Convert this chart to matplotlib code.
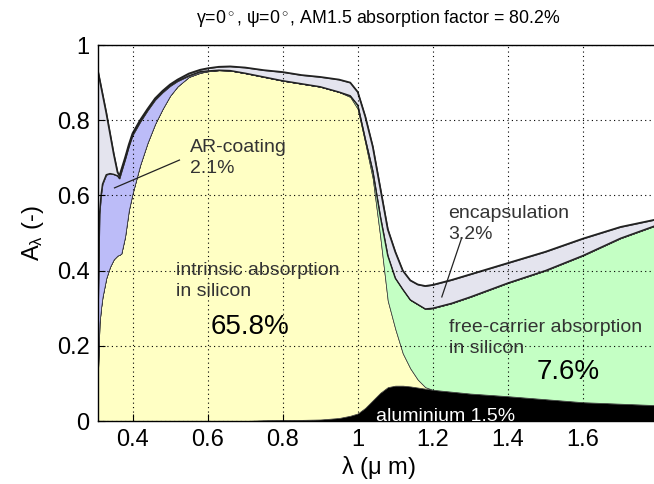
import numpy as np
import matplotlib.pyplot as plt

plt.rcParams['font.family'] = ['Liberation Sans', 'DejaVu Sans']
plt.rcParams['mathtext.fontset'] = 'custom'
plt.rcParams['mathtext.rm'] = 'Liberation Sans'
plt.rcParams['mathtext.it'] = 'Liberation Sans'

# wavelength grid (um)
wl = [0.308, 0.312, 0.316, 0.32, 0.33, 0.34, 0.35, 0.36, 0.365, 0.37, 0.38, 0.39, 0.40,
      0.42, 0.44, 0.46, 0.48, 0.50, 0.52, 0.55, 0.58, 0.60, 0.63, 0.66, 0.70,
      0.75, 0.80, 0.85, 0.90, 0.95, 0.98,
      1.00, 1.02, 1.04, 1.06, 1.08, 1.10, 1.12, 1.14, 1.16, 1.18, 1.20,
      1.25, 1.30, 1.40, 1.50, 1.60, 1.70, 1.80]

# absorbed fraction per mechanism (stacked from bottom)
aluminium = [0, 0, 0, 0, 0, 0, 0, 0, 0, 0, 0, 0, 0,
             0, 0, 0, 0, 0, 0, 0, 0, 0, 0, 0, 0,
             0.002, 0.003, 0.003, 0.004, 0.008, 0.014,
             0.020, 0.035, 0.055, 0.075, 0.090, 0.094, 0.094, 0.092, 0.089, 0.086, 0.083,
             0.078, 0.073, 0.066, 0.058, 0.050, 0.046, 0.042]
intrinsic = [0.13, 0.26, 0.30, 0.33, 0.38, 0.41, 0.43, 0.44, 0.442, 0.445, 0.49, 0.56, 0.605,
             0.68, 0.74, 0.79, 0.83, 0.865, 0.89, 0.915, 0.926, 0.930, 0.933, 0.932, 0.925,
             0.913, 0.902, 0.894, 0.885, 0.867, 0.848,
             0.81, 0.705, 0.59, 0.415, 0.23, 0.151, 0.086, 0.048, 0.021, 0.004, 0,
             0, 0, 0, 0, 0, 0, 0]
free_carrier = [0, 0, 0, 0, 0, 0, 0, 0, 0, 0, 0, 0, 0,
                0, 0, 0, 0, 0, 0, 0, 0, 0, 0, 0, 0,
                0, 0, 0, 0, 0, 0.003,
                0.01, 0.01, 0.02, 0.055, 0.12, 0.135, 0.17, 0.182, 0.20, 0.208, 0.217,
                0.235, 0.257, 0.301, 0.342, 0.39, 0.44, 0.48]
ar_coating = [0.17, 0.29, 0.30, 0.30, 0.275, 0.248, 0.226, 0.212, 0.203, 0.217, 0.205, 0.17, 0.155,
              0.115, 0.086, 0.064, 0.044, 0.026, 0.014, 0.003, 0.003, 0.001, 0, 0, 0,
              0, 0, 0, 0, 0, 0,
              0, 0, 0, 0, 0, 0, 0, 0, 0, 0, 0,
              0, 0, 0, 0, 0, 0, 0]
encapsulation = [0.63, 0.36, 0.29, 0.24, 0.165, 0.107, 0.054, 0.01, 0.007, 0.006, 0.005, 0.005, 0.005,
                 0.005, 0.004, 0.004, 0.004, 0.004, 0.004, 0.006, 0.005, 0.007, 0.009, 0.011, 0.015,
                 0.018, 0.023, 0.023, 0.026, 0.033, 0.035,
                 0.035, 0.06, 0.065, 0.075, 0.07, 0.07, 0.05, 0.052, 0.053, 0.061, 0.062,
                 0.062, 0.06, 0.053, 0.05, 0.045, 0.03, 0.015]

colors = ['#000000', '#FFFFC4', '#C4FFC4', '#BCBCF8', '#E4E4EE']

fig = plt.figure(figsize=(6.54, 4.84), dpi=100)
ax = fig.add_axes([98 / 654, 63 / 484, 560 / 654, 376 / 484])

ax.stackplot(wl, aluminium, intrinsic, free_carrier, ar_coating, encapsulation,
             colors=colors, edgecolor='#333333', linewidth=0.5)

total = np.sum([aluminium, intrinsic, free_carrier, ar_coating, encapsulation], axis=0)
inner = total - np.array(encapsulation)
ax.plot(wl, total, color='#222222', lw=1.3)
ax.plot(wl, inner, color='#222222', lw=1.0)

ax.set_xlim(0.308, 1.8)
ax.set_ylim(0, 1)
ax.set_xticks([0.4, 0.6, 0.8, 1.0, 1.2, 1.4, 1.6])
ax.set_xticklabels(['0.4', '0.6', '0.8', '1', '1.2', '1.4', '1.6'])
ax.set_yticks([0, 0.2, 0.4, 0.6, 0.8, 1])
ax.set_yticklabels(['0', '0.2', '0.4', '0.6', '0.8', '1'])
ax.tick_params(direction='in', length=5, labelsize=17, pad=6)
ax.grid(True, color='k', linestyle=(0, (1, 3)), linewidth=0.8)
ax.set_axisbelow(False)
for s in ax.spines.values():
    s.set_linewidth(1.0)

ax.set_xlabel(r'$\lambda$ ($\mu$ m)', fontsize=17, labelpad=2)
ax.set_ylabel(r'A$_\lambda$ (-)', fontsize=17, labelpad=8)
ax.set_title(r'$\gamma$=0$^\circ$, $\psi$=0$^\circ$, AM1.5 absorption factor = 80.2%',
             fontsize=12.8, pad=16)

fs = 14
ls = 1.3
ax.text(0.552, 0.70, 'AR-coating\n2.1%', fontsize=fs, color='#333333', va='center',
        linespacing=ls)
ax.plot([0.352, 0.525], [0.62, 0.694], color='#222222', lw=0.9)
ax.text(1.24, 0.525, 'encapsulation\n3.2%', fontsize=fs, color='#333333', va='center',
        linespacing=ls, ha='left')
ax.plot([1.277, 1.224], [0.487, 0.33], color='#222222', lw=0.9)
ax.text(0.515, 0.373, 'intrinsic absorption\nin silicon', fontsize=fs, color='#333333',
        va='center', linespacing=ls)
ax.text(0.608, 0.25, '65.8%', fontsize=20, color='k', va='center')
ax.text(1.243, 0.22, 'free-carrier absorption\nin silicon', fontsize=fs, color='#333333',
        va='center', linespacing=ls)
ax.text(1.477, 0.13, '7.6%', fontsize=20, color='k', va='center')
ax.text(1.05, 0.012, 'aluminium 1.5%', fontsize=fs, color='white', va='center', clip_on=True)

fig.savefig('out.png', dpi=100)
